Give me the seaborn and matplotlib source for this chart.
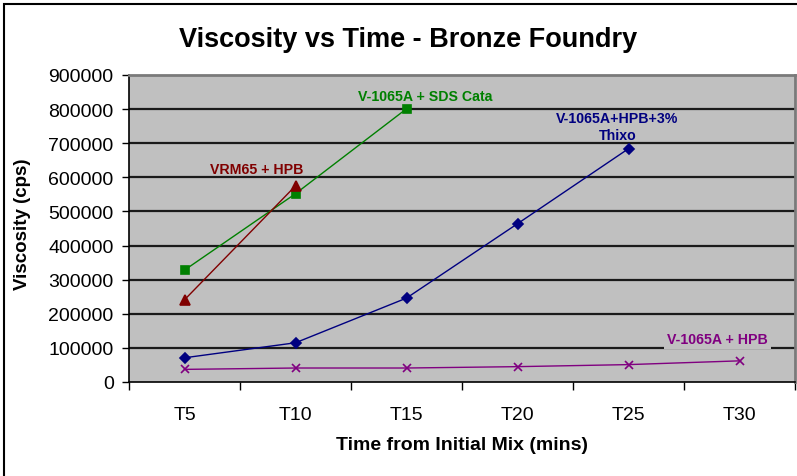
import matplotlib
matplotlib.use("Agg")
import matplotlib.pyplot as plt
import seaborn as sns
import pandas as pd
from matplotlib.patches import Rectangle

categories = ["T5", "T10", "T15", "T20", "T25", "T30"]

thixo_name = "V-1065A+HPB+3%\nThixo"
thixo_vals = [71000, 115000, 246000, 464000, 684000]

hpb_name = "V-1065A + HPB"
hpb_vals = [37000, 41000, 41000, 45000, 51000, 62000]

sds_name = "V-1065A + SDS Cata"
sds_vals = [328000, 552000, 801000]

vrm_name = "VRM65 + HPB"
vrm_vals = [241000, 575000]

yticks = [0, 100000, 200000, 300000, 400000, 500000, 600000, 700000, 800000, 900000]

colors = {sds_name: "#008000", vrm_name: "#800000", thixo_name: "#000080", hpb_name: "#800080"}
markers = {sds_name: "s", vrm_name: "^", thixo_name: "D", hpb_name: "x"}
msizes = {sds_name: 6, vrm_name: 7.5, thixo_name: 5.5, hpb_name: 5.5}

plt.rcParams["font.family"] = ["Liberation Sans", "DejaVu Sans"]

fig = plt.figure(figsize=(7.97, 4.77), dpi=100)
fig.patch.set_facecolor("white")
ax = fig.add_axes([129 / 797, 1 - 383 / 477, 666 / 797, 307 / 477])
ax.set_facecolor("#c0c0c0")

series = [(sds_name, sds_vals), (vrm_name, vrm_vals), (thixo_name, thixo_vals), (hpb_name, hpb_vals)]
for name, vals in series:
    d = pd.DataFrame({"xpos": list(range(len(vals))), "visc": vals})
    sns.lineplot(data=d, x="xpos", y="visc", ax=ax, color=colors[name],
                 marker=markers[name], markersize=msizes[name],
                 markeredgecolor=colors[name], markerfacecolor=colors[name],
                 markeredgewidth=1.2, linewidth=1.0, zorder=3)

ax.set_xlim(-0.5, 5.5)
ax.set_ylim(0, 900000)
ax.set_yticks(yticks)
ax.set_yticklabels([str(v) for v in yticks], fontsize=14)
ax.set_xticks([i - 0.5 for i in range(7)])
ax.set_xticklabels([""] * 7)
ax.set_xticks(range(6), minor=True)
ax.set_xticklabels(categories, minor=True, fontsize=14)
ax.tick_params(axis="x", which="minor", length=0, pad=17)
ax.tick_params(axis="x", which="major", length=6, width=1, direction="out", color="black")
ax.tick_params(axis="y", length=5, width=1, direction="out", pad=6, color="black")
ax.set_xlabel("")
ax.set_ylabel("")

ax.grid(False)
for v in yticks[1:-1]:
    ax.axhline(v, color="#1a1a1a", linewidth=1.6, zorder=0.5)

ax.spines["left"].set_color("black")
ax.spines["left"].set_linewidth(1.2)
ax.spines["bottom"].set_color("black")
ax.spines["bottom"].set_linewidth(1.2)
ax.spines["top"].set_color("#7a7a7a")
ax.spines["top"].set_linewidth(2.0)
ax.spines["right"].set_color("#7a7a7a")
ax.spines["right"].set_linewidth(2.0)

lab_kw = dict(fontsize=10.2, fontweight="bold", ha="center", va="center")
ax.text(2.17, 838000, sds_name, color=colors[sds_name], **lab_kw)
ax.text(0.65, 624000, vrm_name, color=colors[vrm_name], **lab_kw)
ax.text(3.9, 750000, thixo_name, color=colors[thixo_name], linespacing=1.3, **lab_kw)
ax.text(4.8, 126000, hpb_name, color=colors[hpb_name], zorder=3,
        bbox=dict(facecolor="#c0c0c0", edgecolor="none", pad=2), **lab_kw)

fig.text(408 / 797, 1 - 40 / 477, "Viscosity vs Time - Bronze Foundry",
         fontsize=19.5, fontweight="bold", ha="center", va="center")
fig.text(23 / 797, 1 - 224 / 477, "Viscosity (cps)", fontsize=13.5, fontweight="bold",
         rotation=90, ha="center", va="center")
fig.text(462 / 797, 1 - 446 / 477, "Time from Initial Mix (mins)", fontsize=14,
         fontweight="bold", ha="center", va="center")

fig.patches.append(Rectangle((4 / 797, -0.05), 1.1, 1 - 5 / 477 + 0.05,
                             transform=fig.transFigure, fill=False,
                             edgecolor="black", linewidth=1.5, zorder=0))

fig.savefig("out.png", dpi=100)
